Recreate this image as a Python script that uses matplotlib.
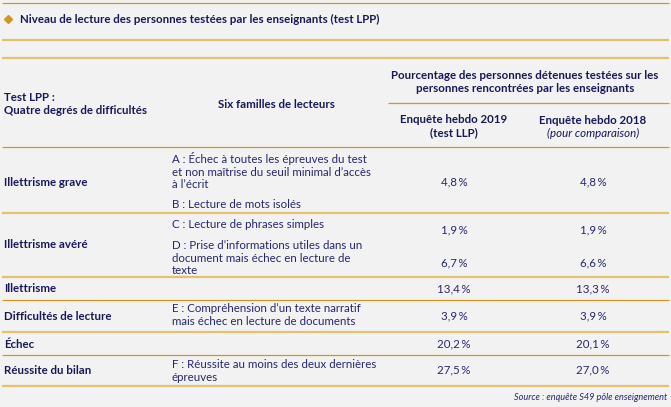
import matplotlib
matplotlib.use("Agg")
import matplotlib.pyplot as plt

# --- données du tableau ---
titre = "Niveau de lecture des personnes testées par les enseignants (test LPP)"
degres = ["Illettrisme grave", "Illettrisme avéré", "Illettrisme",
          "Difficultés de lecture", "Échec", "Réussite du bilan"]
familles = [
    "A\u202f: Échec à toutes les épreuves du test\net non maîtrise du seuil minimal d’accès\nà l’écrit",
    "B\u202f: Lecture de mots isolés",
    "C\u202f: Lecture de phrases simples",
    "D\u202f: Prise d’informations utiles dans un\ndocument mais échec en lecture de\ntexte",
    "E\u202f: Compréhension d’un texte narratif\nmais échec en lecture de documents",
    "F\u202f: Réussite au moins des deux dernières\népreuves",
]
val_2019 = [4.8, 1.9, 6.7, 13.4, 3.9, 20.2, 27.5]
val_2018 = [4.8, 1.9, 6.6, 13.3, 3.9, 20.1, 27.0]
source = "Source\u202f: enquête S49 pôle enseignement"

W, H = 671, 407
BG = "#f2f2f2"
NAVY = "#18185a"
BLUE = "#262670"
GOLD_L = "#e2c170"
GOLD_D = "#d4961c"
FONT = ["Lato", "DejaVu Sans"]
FS = 8.3

fig = plt.figure(figsize=(W / 100, H / 100), dpi=100, facecolor=BG)
ax = fig.add_axes([0, 0, 1, 1])
ax.set_xlim(0, W)
ax.set_ylim(H, 0)
ax.axis("off")
ax.set_facecolor(BG)


def hline(y, x0=2, x1=669, light=True):
    if light:
        ax.plot([x0, x1], [y, y], color=GOLD_L, lw=1.6, solid_capstyle="butt")
    else:
        ax.plot([x0, x1], [y, y], color=GOLD_D, lw=0.9, solid_capstyle="butt")


def txt(x, y, s, bold=False, ha="left", italic=False, color=None, size=FS, ls=1.22):
    ax.text(x, y, s, ha=ha, va="center", fontsize=size, family=FONT,
            fontweight="bold" if bold else "normal",
            fontstyle="italic" if italic else "normal",
            color=color or (NAVY if bold else BLUE), linespacing=ls)


def pct(v):
    return f"{v:.1f}".replace(".", ",") + "\u2009%"


# titre
hline(3, light=False)
ax.plot([8], [19], marker="D", ms=3.6, color=GOLD_D)
txt(20, 19, titre, bold=True)
hline(40)
hline(58)

# en-têtes
txt(525, 82, "Pourcentage des personnes détenues testées sur les\npersonnes rencontrées par les enseignants",
    bold=True, ha="center")
hline(103, x0=388, light=False)
txt(4, 104, "Test LPP\u202f:\nQuatre degrés de difficultés", bold=True)
txt(276, 104, "Six familles de lecteurs", bold=True, ha="center")
txt(454, 126, "Enquête hebdo 2019\n(test LLP)", bold=True, ha="center")
txt(593, 120, "Enquête hebdo 2018", bold=True, ha="center")
txt(593, 133, "(pour comparaison)", italic=True, ha="center", color=NAVY)
hline(147, light=False)

# lignes du tableau
c1, c2, c3, c4 = 4, 172, 454, 593
row_y = [182, 244, 289, 316, 344, 370]
fam_y = [171, 204, 224, 258, 315, 371]
val_y = [182, 230, 263, 289, 316, 344, 370]

for s, y in zip(degres, row_y):
    txt(c1, y, s, bold=True)
for s, y in zip(familles, fam_y):
    txt(c2, y, s)
for a, b, y in zip(val_2019, val_2018, val_y):
    txt(c3, y, pct(a), ha="center")
    txt(c4, y, pct(b), ha="center")

hline(213)
hline(277)
hline(300, light=False)
hline(332)
hline(355, light=False)
hline(386)

txt(667, 397, source, italic=True, ha="right", size=6.6)

fig.savefig("out.png", dpi=100, facecolor=BG)
